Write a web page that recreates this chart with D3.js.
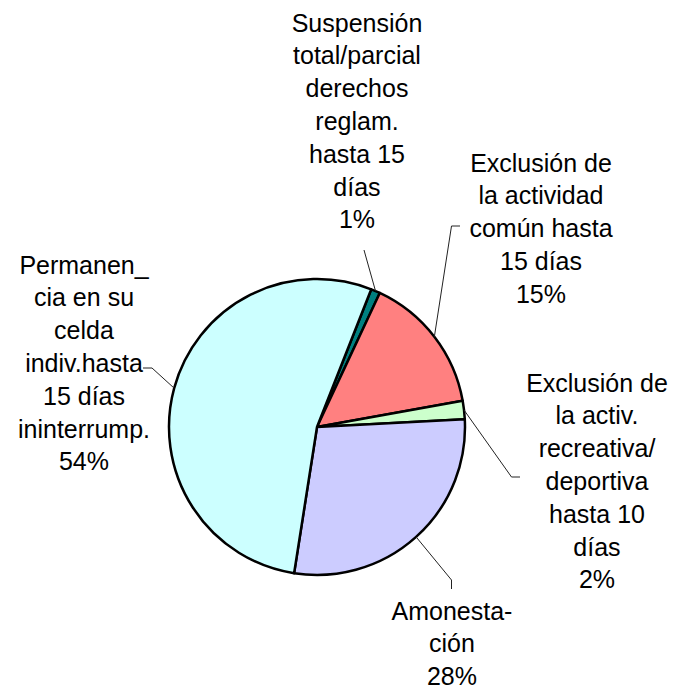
<!DOCTYPE html>
<html>
<head>
<meta charset="utf-8">
<script src="https://cdn.jsdelivr.net/npm/d3@7"></script>
<style>
  html, body { margin: 0; padding: 0; background: #fff; }
  svg { display: block; }
  text { font-family: "Liberation Sans", Arial, sans-serif; font-size: 25px; fill: #000; }
</style>
</head>
<body>
<svg id="chart" width="686" height="689"></svg>
<script>
// ---- data ----
const categories = [
  "Suspensión total/parcial derechos reglam. hasta 15 días",
  "Exclusión de la actividad común hasta 15 días",
  "Exclusión de la activ. recreativa/ deportiva hasta 10 días",
  "Amonestación",
  "Permanencia en su celda indiv.hasta 15 días ininterrump."
];
const values = [1.0, 15.2, 2.0, 28.3, 53.5];
const labelLines = [
  ["Suspensión", "total/parcial", "derechos", "reglam.", "hasta 15", "días"],
  ["Exclusión de", "la actividad", "común hasta", "15 días"],
  ["Exclusión de", "la activ.", "recreativa/", "deportiva", "hasta 10", "días"],
  ["Amonesta-", "ción"],
  ["Permanen_", "cia en su", "celda", "indiv.hasta", "15 días", "ininterrump."]
];
const colors = ["#008080", "#FF8080", "#CCFFCC", "#CCCCFF", "#CCFFFF"];

// ---- layout ----
const cx = 317, cy = 427, r = 148;
const startDeg = 21.5;
const lineH = 32.8;
// label block centre x and first baseline y
const labelPos = [
  {x: 357, y: 31.5},
  {x: 541, y: 171.5},
  {x: 597, y: 391.5},
  {x: 452, y: 619.5},
  {x: 84,  y: 273.5}
];
// leader polylines: first point is label side; last computed on pie edge
const leaders = [
  [[364, 250]],
  [[460, 226], [451.5, 226]],
  [[520, 477], [511.5, 477]],
  [[451.5, 589], [451.5, 580]],
  [[143, 368], [152, 368]]
];

const svg = d3.select("#chart");
const g = svg.append("g").attr("transform", `translate(${cx},${cy})`);

const pie = d3.pie().sort(null).value(d => d)
  .startAngle(startDeg * Math.PI / 180)
  .endAngle(startDeg * Math.PI / 180 + 2 * Math.PI);
const arcs = pie(values);
const arc = d3.arc().innerRadius(0).outerRadius(r);

g.selectAll("path.slice").data(arcs).enter().append("path")
  .attr("class", "slice")
  .attr("d", arc)
  .attr("fill", (d, i) => colors[i])
  .attr("stroke", "#000")
  .attr("stroke-width", 2.5)
  .attr("stroke-linejoin", "round");

// leader lines
const total = d3.sum(values);
arcs.forEach((a, i) => {
  const mid = (a.startAngle + a.endAngle) / 2;
  const ex = cx + r * Math.sin(mid), ey = cy - r * Math.cos(mid);
  const pts = leaders[i].concat([[ex, ey]]);
  svg.append("path")
    .attr("d", d3.line()(pts))
    .attr("fill", "none")
    .attr("stroke", "#222")
    .attr("stroke-width", 1);
});

// labels
arcs.forEach((a, i) => {
  const lines = labelLines[i].concat([Math.round(values[i] / total * 100) + "%"]);
  const t = svg.append("text")
    .attr("text-anchor", "middle")
    .attr("x", labelPos[i].x)
    .attr("y", labelPos[i].y);
  lines.forEach((ln, k) => {
    t.append("tspan")
      .attr("x", labelPos[i].x)
      .attr("y", labelPos[i].y + k * lineH)
      .text(ln);
  });
});
</script>
</body>
</html>
